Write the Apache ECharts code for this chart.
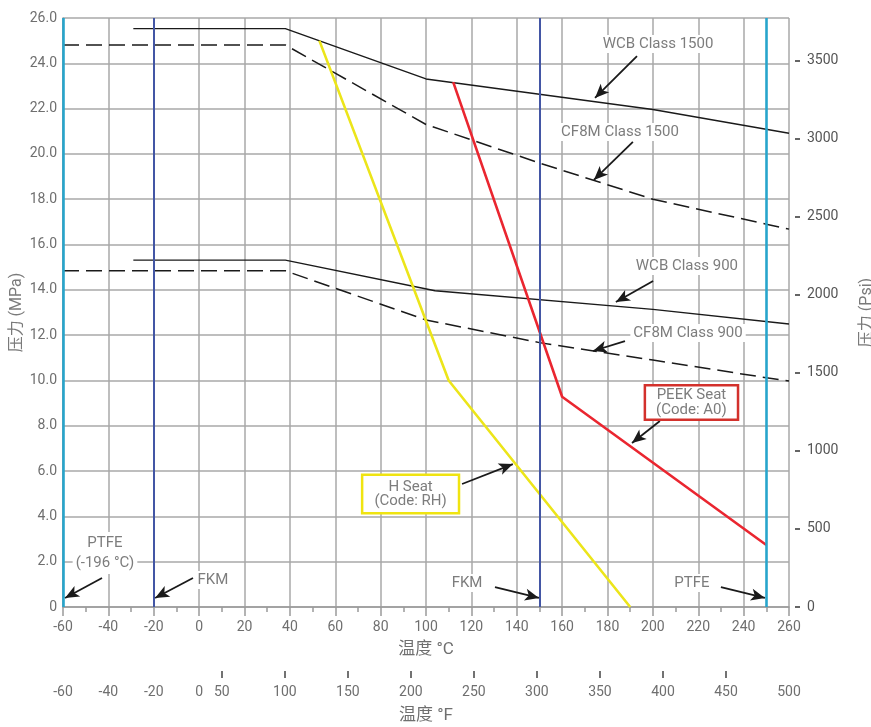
<!DOCTYPE html>
<html><head><meta charset="utf-8">
<script src="https://cdn.jsdelivr.net/npm/echarts@6/dist/echarts.min.js"></script>
<style>html,body{margin:0;padding:0;background:#fff}#c{width:871px;height:727px}</style>
</head><body><div id="c"></div>
<script>
// ---- data (temperature °C, pressure MPa) ----
const wcbClass1500 = [[-29,25.53],[38,25.53],[100,23.31],[200,21.96],[260,20.91]];
const cf8mClass1500 = [[-60,24.81],[38,24.81],[100,21.3],[150,19.6],[200,18.0],[250,16.9],[260,16.68]];
const wcbClass900 = [[-29,15.31],[38,15.31],[104,13.96],[200,13.14],[260,12.49]];
const cf8mClass900 = [[-60,14.84],[38,14.84],[100,12.67],[150,11.67],[200,10.9],[250,10.12],[260,9.98]];
const hSeat = [[53,25.0],[110,10.0],[190,0]];
const peekSeat = [[112,23.17],[160,9.28],[250,2.74]];
const ptfeLimits = [-60, 250];
const fkmLimits = [-20, 150];

// ---- tick labels ----
const psiTicks = [0,500,1000,1500,2000,2500,3000,3500];
const fahrenheitLabels = [-60,-40,-20,0,50,100,150,200,250,300,350,400,450,500];
const fahrenheitTickMarks = [50,100,150,200,250,300,350,400,450];

// ---- annotation texts and arrows (data coordinates) ----
const annotationTexts = ['WCB Class 1500','CF8M Class 1500','WCB Class 900','CF8M Class 900',
  'PEEK Seat\n(Code: A0)','H Seat\n(Code: RH)','FKM','PTFE\n(-196 °C)','FKM','PTFE'];
const annotationAt = [[202.3,24.85],[185.5,20.97],[215,15.05],[215.5,12.1],[217,9.03],[93.2,4.99],
  [6.1,1.19],[-41.5,2.38],[118.1,1.06],[217.2,1.06]];
const arrowFrom = [[193,24.32],[191.2,20.53],[200.1,14.39],[187.7,11.74],[203.1,8.21],[115.9,5.43],
  [-2.7,1.28],[-42.8,1.28],[130.4,0.88],[230,0.88]];
const arrowTo = [[174.5,22.47],[174,18.85],[183.7,13.46],[173.6,11.3],[190.8,7.24],[138.3,6.31],
  [-19.4,0.4],[-59.1,0.4],[149.8,0.4],[249.4,0.4]];

const FONT = 'Roboto, "Noto Sans CJK SC", sans-serif';
const MPA_TO_PSI = 145.038;
// In the reference the °F labels up to 0 sit on the matching °C grid positions
const fToAxis = f => f <= 0 ? f : (f - 32) * 5 / 9;
const axisToF = v => v <= 0 ? Math.round(v) : Math.round(v * 9 / 5 + 32);

const labelStyles = [
  {}, {}, {}, {},
  {borderColor:'#d3312c', borderWidth:2.5, padding:[1,10,1,10], lineHeight:15},
  {borderColor:'#f0e410', borderWidth:2.5, padding:[4,11,4,11], lineHeight:14},
  {}, {lineHeight:20}, {}, {}
];

const chart = echarts.init(document.getElementById('c'), null, {renderer:'canvas'});
const gridLine = {lineStyle:{color:'#a9a9a9', width:1.5}};
const lineSeries = (name, data, color, width, type) => ({
  name, type:'line', data, symbol:'none', animation:false, silent:true,
  lineStyle:{color, width, type: type || 'solid'}, z:3
});

chart.setOption({
  animation:false,
  grid:{left:63, right:82, top:18, bottom:120, outerBoundsMode:'none', containLabel:false},
  xAxis:[{
    type:'value', min:-60, max:260, interval:20,
    axisLine:{show:true, onZero:false, lineStyle:{color:'#9a9a9a', width:1.5}},
    axisTick:{show:true, length:9, lineStyle:{color:'#9a9a9a', width:1.5}},
    minorTick:{show:true, splitNumber:2, length:5, lineStyle:{color:'#9a9a9a', width:1.5}},
    splitLine:gridLine,
    axisLabel:{margin:13, color:'#6f6f6f', fontSize:14, fontFamily:FONT},
    name:'温度 °C', nameLocation:'middle', nameGap:34,
    nameTextStyle:{color:'#6f6f6f', fontSize:17, fontFamily:FONT}
  },{
    type:'value', min:-60, max:260, position:'bottom', offset:64,
    axisLine:{show:true, onZero:false, lineStyle:{color:'#ffffff', opacity:0, width:0}},
    axisTick:{show:true, customValues:fahrenheitTickMarks.map(fToAxis), length:7,
      lineStyle:{color:'#444444', width:1.5, opacity:1}},
    axisLabel:{customValues:fahrenheitLabels.map(fToAxis), formatter:v => String(axisToF(v)),
      margin:14, color:'#6f6f6f', fontSize:14, fontFamily:FONT},
    splitLine:{show:false},
    name:'温度 °F', nameLocation:'middle', nameGap:36,
    nameTextStyle:{color:'#6f6f6f', fontSize:17, fontFamily:FONT}
  }],
  yAxis:[{
    type:'value', min:0, max:26, interval:2,
    axisLine:{show:true, onZero:false, lineStyle:{color:'#9a9a9a', width:1.5}},
    axisTick:{show:false},
    splitLine:gridLine,
    axisLabel:{margin:6, color:'#6f6f6f', fontSize:14, fontFamily:FONT,
      formatter:v => v === 0 ? '0' : v.toFixed(1)},
    name:'压力 (MPa)', nameLocation:'middle', nameGap:38, nameRotate:90, nameMoveOverlap:false,
    nameTextStyle:{color:'#7a7a7a', fontSize:16, fontFamily:FONT}
  },{
    type:'value', min:0, max:26 * MPA_TO_PSI, position:'right', offset:6,
    axisLine:{show:false, onZero:false},
    axisTick:{show:true, customValues:psiTicks, length:5, lineStyle:{color:'#333', width:1.5}},
    axisLabel:{customValues:psiTicks, formatter:v => String(Math.round(v)), margin:12,
      color:'#555', fontSize:14, fontFamily:FONT},
    splitLine:{show:false},
    name:'压力 (Psi)', nameLocation:'middle', nameGap:64, nameRotate:90,
    nameTextStyle:{color:'#7a7a7a', fontSize:16, fontFamily:FONT}
  }],
  series:[
    {
      type:'line', data:[], silent:true, z:2,
      markLine:{
        silent:true, symbol:['none','none'], animation:false, label:{show:false},
        data:[
          ...ptfeLimits.map(v => ({xAxis:v, lineStyle:{color:'#27a5cc', width:2.6, type:'solid'}})),
          ...fkmLimits.map(v => ({xAxis:v, lineStyle:{color:'#4356a5', width:2, type:'solid'}}))
        ]
      }
    },
    lineSeries('WCB Class 1500', wcbClass1500, '#1a1a1a', 1.4),
    lineSeries('CF8M Class 1500', cf8mClass1500, '#1a1a1a', 1.5, [16,7]),
    lineSeries('WCB Class 900', wcbClass900, '#1a1a1a', 1.4),
    lineSeries('CF8M Class 900', cf8mClass900, '#1a1a1a', 1.5, [16,7]),
    lineSeries('H Seat', hSeat, '#ece51a', 2.6),
    lineSeries('PEEK Seat', peekSeat, '#ea2630', 2.6),
    {
      type:'line', data:[], silent:true, z:5,
      markLine:{
        silent:true, symbol:['none','arrow'], symbolSize:[9,14], animation:false,
        label:{show:false},
        lineStyle:{color:'#1a1a1a', width:1.8, type:'solid'},
        data: arrowFrom.map((f, i) => [{coord:f}, {coord:arrowTo[i]}])
      },
      markPoint:{
        silent:true, animation:false, symbol:'circle', symbolSize:0,
        data: annotationTexts.map((t, i) => ({
          coord: annotationAt[i],
          label: Object.assign({
            show:true, position:'inside', formatter:t, color:'#7d7d7d', fontSize:15,
            fontFamily:FONT, backgroundColor:'#fff', padding:[1,3], lineHeight:16, align:'center'
          }, labelStyles[i])
        }))
      }
    }
  ]
});
</script>
</body></html>
